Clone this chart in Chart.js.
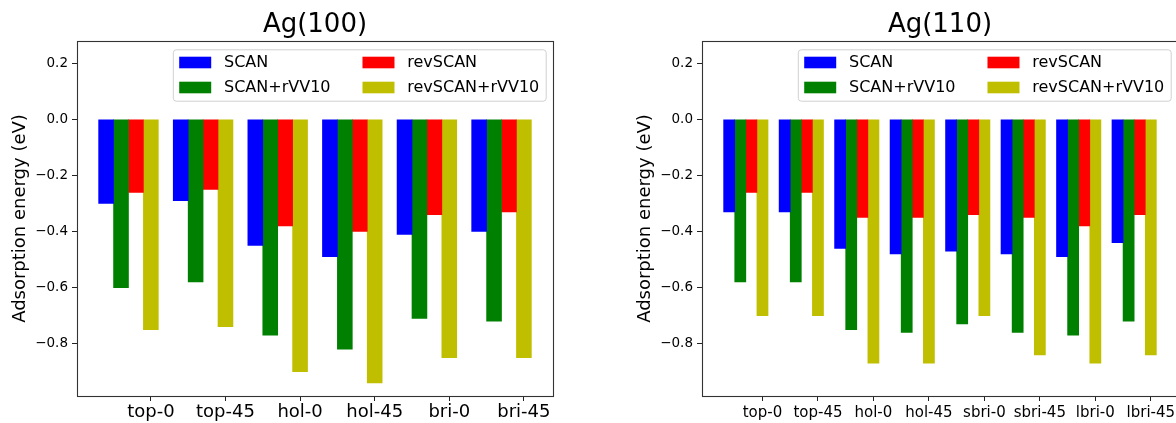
<!DOCTYPE html>
<html><head><meta charset="utf-8">
<script src="https://cdn.jsdelivr.net/npm/chart.js@4"></script>
<style>
html,body{margin:0;padding:0;background:#fff;overflow:hidden;width:1176px;height:423px;position:relative;}
canvas{position:absolute;top:0;}
#c1{left:0;} #c2{left:590px;}
</style></head><body>
<canvas id="c1" width="590" height="423"></canvas>
<canvas id="c2" width="600" height="423"></canvas>
<script>
const seriesNames = ['SCAN', 'SCAN+rVV10', 'revSCAN', 'revSCAN+rVV10'];
const seriesColors = ['#0000ff', '#008000', '#ff0000', '#bfbf00'];

const ag100Sites = ['top-0', 'top-45', 'hol-0', 'hol-45', 'bri-0', 'bri-45'];
const ag100Scan    = [-0.30, -0.29, -0.45, -0.49, -0.41, -0.40];
const ag100ScanVV  = [-0.60, -0.58, -0.77, -0.82, -0.71, -0.72];
const ag100Rev     = [-0.26, -0.25, -0.38, -0.40, -0.34, -0.33];
const ag100RevVV   = [-0.75, -0.74, -0.90, -0.94, -0.85, -0.85];

const ag110Sites = ['top-0', 'top-45', 'hol-0', 'hol-45', 'sbri-0', 'sbri-45', 'lbri-0', 'lbri-45'];
const ag110Scan    = [-0.33, -0.33, -0.46, -0.48, -0.47, -0.48, -0.49, -0.44];
const ag110ScanVV  = [-0.58, -0.58, -0.75, -0.76, -0.73, -0.76, -0.77, -0.72];
const ag110Rev     = [-0.26, -0.26, -0.35, -0.35, -0.34, -0.35, -0.38, -0.34];
const ag110RevVV   = [-0.70, -0.70, -0.87, -0.87, -0.70, -0.84, -0.87, -0.84];

const yTickValues = [-0.8, -0.6, -0.4, -0.2, 0.0, 0.2];
const yMin = -0.987, yMax = 0.28;
const yLabel = 'Adsorption energy (eV)';

const FONT = '"DejaVu Sans", sans-serif';
const BAR_W = 0.2;

const framePlugin = {
  id: 'frame',
  afterDatasetsDraw(chart) {
    const ctx = chart.ctx, a = chart.chartArea;
    ctx.save();
    ctx.strokeStyle = '#333';
    ctx.lineWidth = 1.1;
    ctx.strokeRect(Math.round(a.left) + 0.5, Math.round(a.top) + 0.5,
                   Math.round(a.right - a.left), Math.round(a.bottom - a.top));
    ctx.restore();
  }
};

const mplLegend = {
  id: 'mplLegend',
  afterDraw(chart) {
    const ctx = chart.ctx, a = chart.chartArea;
    const ds = chart.data.datasets;
    const fs = 16;
    ctx.save();
    ctx.font = fs + 'px ' + FONT;
    const cols = [[ds[0], ds[1]], [ds[2], ds[3]]];
    const handleW = 32, handleH = 11.6, textPad = 12.8, colSp = 32, pad = 6.4;
    const w = cols.map(c => Math.max(...c.map(d => ctx.measureText(d.label).width)));
    const boxW = pad * 2 + 2 * (handleW + textPad) + w[0] + colSp + w[1];
    const boxH = 51.4;
    const right = a.right - 7.3, top = a.top + 8.3, left = right - boxW;
    ctx.beginPath();
    if (ctx.roundRect) ctx.roundRect(left + 0.5, top + 0.5, boxW, boxH, 3);
    else ctx.rect(left + 0.5, top + 0.5, boxW, boxH);
    ctx.fillStyle = 'rgba(255,255,255,0.8)';
    ctx.fill();
    ctx.strokeStyle = '#d0d0d0';
    ctx.lineWidth = 1;
    ctx.stroke();
    const rows = [top + 13.2, top + 38.2];
    let x = left + pad;
    cols.forEach((c, ci) => {
      c.forEach((d, ri) => {
        const y = rows[ri];
        ctx.fillStyle = d.backgroundColor;
        ctx.fillRect(x, y - handleH / 2, handleW, handleH);
        ctx.fillStyle = '#000';
        ctx.textBaseline = 'middle';
        ctx.textAlign = 'left';
        ctx.fillText(d.label, x + handleW + textPad, y + 0.3);
      });
      x += handleW + textPad + w[ci] + colSp;
    });
    ctx.restore();
  }
};

function makeChart(id, title, sites, seriesValues, cfg) {
  const n = sites.length;
  const lo = -BAR_W / 2, hi = (n - 1) + 3 * BAR_W + BAR_W / 2;
  const margin = 0.05 * (hi - lo);
  const datasets = seriesValues.map((vals, k) => ({
    label: seriesNames[k],
    data: vals.map((v, i) => ({ x: i + k * BAR_W, y: v })),
    backgroundColor: seriesColors[k],
    borderWidth: 0,
    grouped: false,
    categoryPercentage: 1,
    barPercentage: 1
  }));
  return new Chart(document.getElementById(id), {
    type: 'bar',
    data: { datasets },
    options: {
      responsive: false,
      animation: false,
      events: [],
      layout: { padding: { left: 0, right: cfg.padRight, top: 0, bottom: 0 } },
      plugins: {
        legend: { display: false },
        tooltip: { enabled: false },
        title: {
          display: true, text: title, fullSize: false,
          color: '#000',
          font: { family: FONT, size: 26, weight: 'normal' },
          padding: { top: 9.7, bottom: 0.1 }
        }
      },
      scales: {
        x: {
          type: 'linear',
          bounds: 'data',
          offset: false,
          min: lo - margin, max: hi + margin,
          afterBuildTicks: s => { s.ticks = sites.map((_, i) => ({ value: i + 3 * BAR_W })); },
          afterFit: s => { s.height = 27; },
          ticks: {
            autoSkip: false, maxRotation: 0, minRotation: 0,
            color: '#000', padding: cfg.xTickPad,
            font: { family: FONT, size: cfg.xTickSize },
            callback: (v, i) => sites[i]
          },
          grid: { display: true, offset: false, drawOnChartArea: false, drawTicks: true, tickLength: 5, tickColor: '#222', tickWidth: 1 },
          border: { display: false }
        },
        y: {
          type: 'linear',
          min: yMin, max: yMax,
          afterBuildTicks: s => { s.ticks = yTickValues.map(v => ({ value: v })); },
          afterFit: s => { s.width = cfg.yWidth; },
          ticks: {
            color: '#000', padding: 4,
            font: { family: FONT, size: 13.5 },
            callback: v => (v < -1e-9 ? '\u2212' : '') + Math.abs(v).toFixed(1)
          },
          grid: { display: true, drawOnChartArea: false, drawTicks: true, tickLength: 5, tickColor: '#222', tickWidth: 1 },
          border: { display: false },
          title: {
            display: true, text: yLabel, color: '#000',
            font: { family: FONT, size: 18 },
            padding: { top: cfg.yTitlePad, bottom: 0 }
          }
        }
      }
    },
    plugins: [framePlugin, mplLegend]
  });
}

makeChart('c1', 'Ag(100)', ag100Sites, [ag100Scan, ag100ScanVV, ag100Rev, ag100RevVV],
  { padRight: 37, yWidth: 77, yTitlePad: 9.2, xTickSize: 18, xTickPad: 0.3 });
makeChart('c2', 'Ag(110)', ag110Sites, [ag110Scan, ag110ScanVV, ag110Rev, ag110RevVV],
  { padRight: 12, yWidth: 112, yTitlePad: 44.7, xTickSize: 15, xTickPad: 3 });
</script>
</body></html>
